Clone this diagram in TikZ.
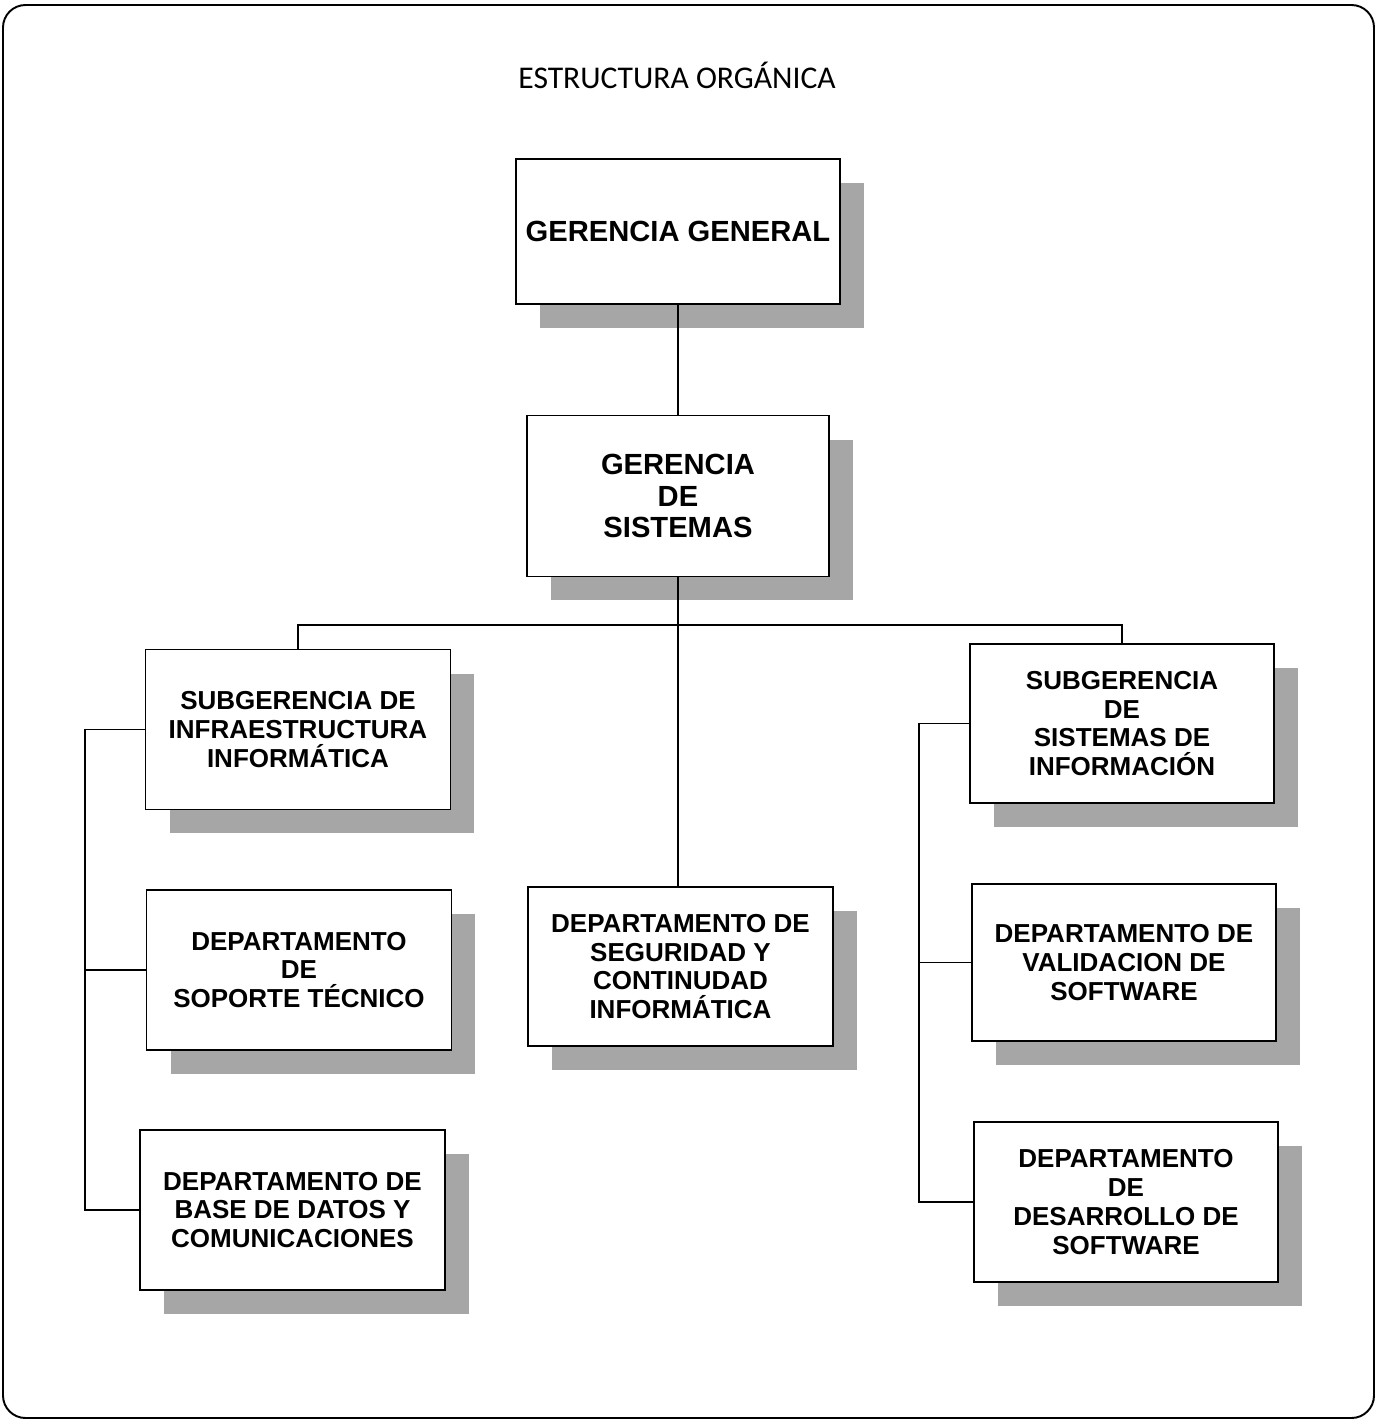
\documentclass[tikz,border=0pt]{standalone}
\usepackage{fontspec}
\setmainfont{Liberation Sans}
\newfontfamily\titlefont{Carlito}
\usepackage{tikz}
\usetikzlibrary{shadows}

\begin{document}
\begin{tikzpicture}[x=0.02cm, y=-0.02cm,
        unit/.style={rectangle, draw, line width=0.8pt, fill=white, align=center,
            inner sep=2pt, outer sep=0pt,
            minimum width=6.1cm, minimum height=3.2cm,
            font=\bfseries\fontsize{14.8}{16.4}\selectfont,
            drop shadow={shadow xshift=0.48cm, shadow yshift=-0.48cm, fill=black!35, opacity=1}},
        head/.style={unit, font=\bfseries\fontsize{16.6}{17.7}\selectfont},
        link/.style={line width=0.8pt}]
        \useasboundingbox (0, 0) rectangle (1377, 1421);
        \draw[line width=1.1pt, rounded corners=0.45cm] (3, 5) rectangle (1374, 1418);

        \node[font=\titlefont\fontsize{18}{20}\selectfont] at (677, 75) (title) {ESTRUCTURA ORGÁNICA};

        % direccion
        \node[head, minimum width=6.48cm, minimum height=2.9cm] at (678, 231.5) (gg) {GERENCIA GENERAL};
        \node[head, minimum width=6.04cm, minimum height=3.22cm] at (678, 496) (gs) {GERENCIA\\DE\\SISTEMAS};

        % rama izquierda
        \node[unit] at (298, 729.5) (si) {SUBGERENCIA DE\\INFRAESTRUCTURA\\INFORMÁTICA};
        \node[unit] at (299, 970) (dst) {DEPARTAMENTO\\DE\\SOPORTE TÉCNICO};
        \node[unit] at (292.5, 1210) (dbd) {DEPARTAMENTO DE\\BASE DE DATOS Y\\COMUNICACIONES};

        % rama central
        \node[unit, minimum height=3.18cm] at (680.5, 966.5) (dsc) {DEPARTAMENTO DE\\SEGURIDAD Y\\CONTINUDAD\\INFORMÁTICA};

        % rama derecha
        \node[unit, minimum width=6.08cm, minimum height=3.18cm] at (1122, 723.5) (ssi) {SUBGERENCIA\\DE\\SISTEMAS DE\\INFORMACIÓN};
        \node[unit, minimum width=6.08cm, minimum height=3.14cm] at (1124, 962.5) (dvs) {DEPARTAMENTO DE\\VALIDACION DE\\SOFTWARE};
        \node[unit, minimum width=6.08cm] at (1126, 1202) (dds) {DEPARTAMENTO\\DE\\DESARROLLO DE\\SOFTWARE};

        \coordinate (bus) at (678, 625);
        \coordinate (lt) at (85, 729.5);
        \coordinate (lb) at (85, 1210);
        \coordinate (rt) at (919, 723.5);
        \coordinate (rb) at (919, 1202);

        \draw[link] (gg) -- (gs);
        \draw[link] (gs.south) -- (gs.south |- dsc.north);
        \draw[link] (si.north) |- (bus) -| (ssi.north);
        \draw[link] (si.west) -- (lt) -- (lb) -- (dbd.west);
        \draw[link] (dst.west) -- (dst.west -| lt);
        \draw[link] (ssi.west) -- (rt) -- (rb) -- (dds.west);
        \draw[link] (dvs.west) -- (dvs.west -| rt);
    \end{tikzpicture}
\end{document}
